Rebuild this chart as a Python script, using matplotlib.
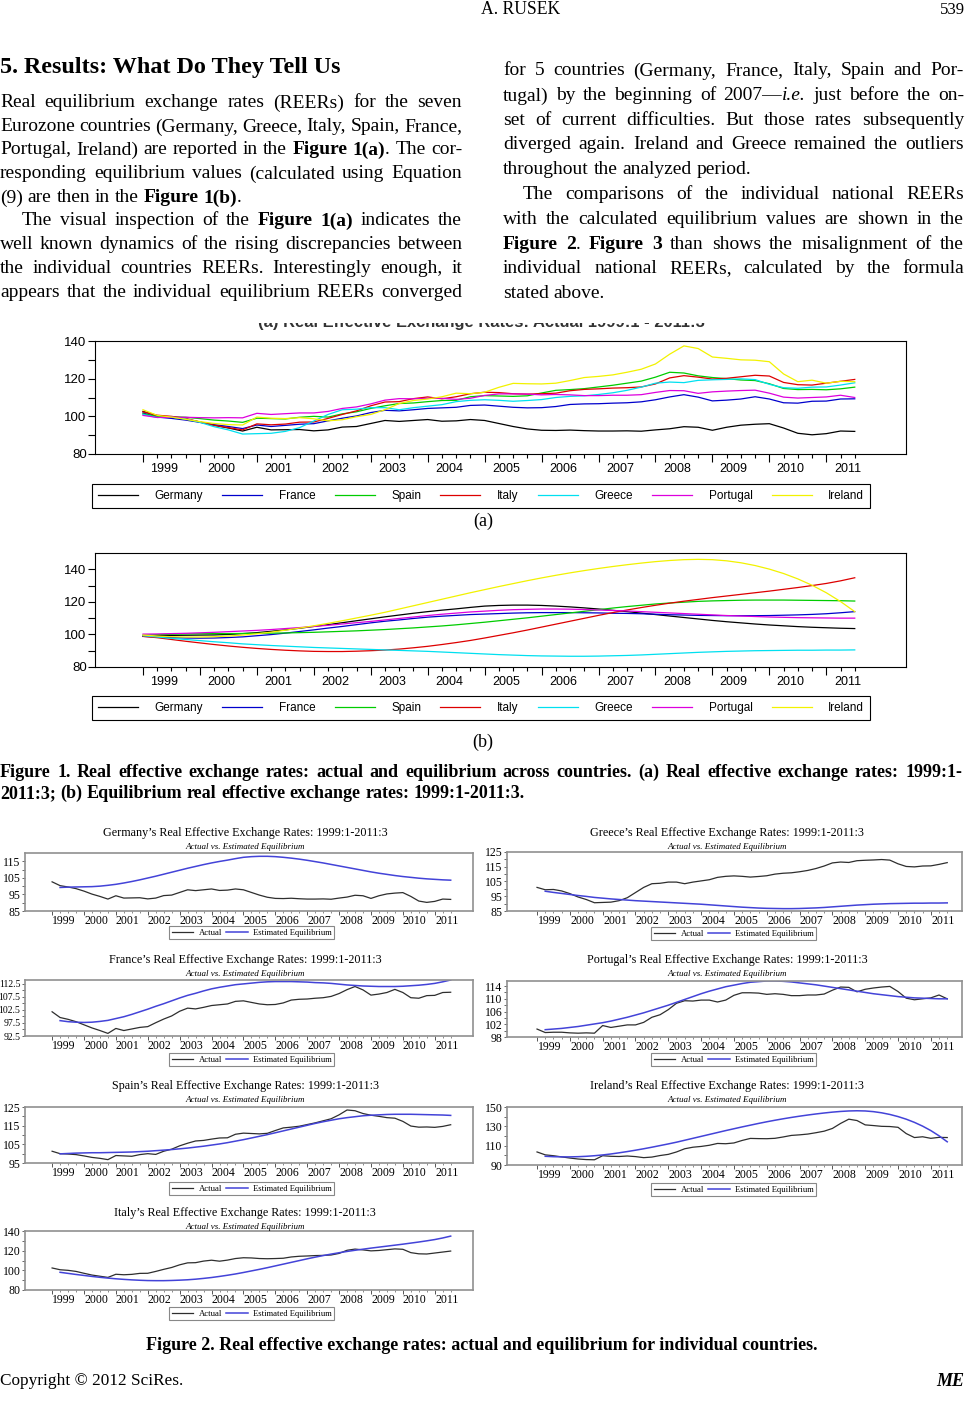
import numpy as np
import matplotlib
matplotlib.use('Agg')
import matplotlib.pyplot as plt
from matplotlib.transforms import Bbox

W, H = 966, 1415
SERIF = 'Liberation Serif'
SANS = 'Liberation Sans'
plt.rcParams['font.family'] = SANS

# ---- data: quarterly REERs, 1999:1 .. 2011:3 (51 quarters) ----
quarters = np.arange(51)
years = list(range(1999, 2012))
year_labels = [str(y) for y in years]

countries = ['Germany', 'France', 'Spain', 'Italy', 'Greece', 'Portugal', 'Ireland']
colors = ['#000000', '#0000cc', '#00cc00', '#dd0000', '#00e0f0', '#dd00dd', '#f2f200']

germany_actual = [102.6, 100.3, 99.5, 98.5, 97.0, 95.2, 93.8, 92.2, 94.2, 92.8,
                  92.9, 93.0, 92.3, 92.8, 94.3, 94.6, 96.2, 97.8, 97.3, 97.8,
                  98.3, 97.4, 97.6, 98.3, 97.8, 96.2, 94.6, 93.3, 92.6, 92.5,
                  92.7, 92.4, 92.2, 92.2, 92.3, 92.1, 92.8, 93.4, 94.5, 94.2,
                  92.6, 94.2, 95.3, 95.8, 96.1, 93.8, 91.0, 90.2, 90.8, 92.2, 92.0]
germany_eq = [98.8, 99.2, 99.4, 99.5, 99.6, 99.7, 100.0, 100.5, 101.1, 101.9,
              102.8, 103.8, 104.9, 106.0, 107.2, 108.4, 109.6, 110.8, 111.9, 113.0,
              114.0, 114.9, 115.7, 116.6, 117.4, 117.8, 118.0, 118.0, 117.8, 117.4,
              116.9, 116.3, 115.6, 114.8, 114.0, 113.1, 112.2, 111.3, 110.4, 109.5,
              108.6, 107.8, 107.1, 106.4, 105.8, 105.3, 104.8, 104.4, 104.1, 103.8, 103.6]

france_actual = [101.8, 99.6, 98.9, 98.0, 96.8, 95.6, 94.6, 93.5, 95.4, 94.6,
                 95.2, 95.8, 96.1, 97.6, 99.0, 100.2, 102.0, 103.2, 102.9, 103.5,
                 104.2, 104.5, 104.8, 105.8, 106.0, 105.4, 104.8, 104.5, 104.6, 105.2,
                 106.3, 106.6, 106.7, 107.0, 107.2, 107.7, 108.8, 110.3, 111.5, 110.2,
                 108.2, 108.6, 109.2, 110.4, 109.2, 107.2, 107.0, 108.0, 108.1, 109.2, 109.3]
france_eq = [98.8, 98.4, 98.0, 97.8, 97.7, 97.8, 98.1, 98.5, 99.2, 99.9,
             100.8, 101.8, 102.8, 103.9, 104.9, 106.0, 107.1, 108.1, 108.9, 109.8,
             110.6, 111.2, 111.7, 112.2, 112.5, 112.8, 113.1, 113.3, 113.4, 113.4,
             113.4, 113.3, 113.2, 113.0, 112.9, 112.7, 112.4, 112.1, 111.9, 111.7,
             111.6, 111.5, 111.5, 111.5, 111.6, 111.8, 112.0, 112.3, 112.7, 113.3, 114.0]

spain_actual = [101.3, 100.0, 99.8, 99.5, 98.8, 98.0, 97.5, 96.8, 99.0, 98.8,
                98.6, 99.5, 100.0, 99.6, 101.3, 102.4, 104.2, 105.6, 106.8, 107.1,
                107.8, 108.4, 108.5, 110.4, 111.0, 110.8, 110.6, 110.9, 112.4, 113.8,
                114.2, 114.7, 115.6, 116.5, 117.6, 118.7, 120.8, 123.4, 123.0, 121.5,
                120.6, 120.0, 119.3, 119.0, 117.3, 114.8, 114.2, 114.3, 114.1, 114.6, 115.5]
spain_eq = [99.5, 99.9, 100.1, 100.3, 100.4, 100.5, 100.5, 100.6, 100.7, 100.8,
            100.9, 101.1, 101.3, 101.6, 101.9, 102.2, 102.6, 103.0, 103.5, 104.0,
            104.6, 105.2, 105.9, 106.7, 107.5, 108.4, 109.3, 110.2, 111.2, 112.2,
            113.2, 114.2, 115.2, 116.2, 117.1, 117.9, 118.7, 119.3, 119.8, 120.3,
            120.6, 120.8, 121.0, 121.1, 121.1, 121.1, 121.0, 120.9, 120.8, 120.7, 120.5]

italy_actual = [102.4, 100.6, 100.0, 98.9, 97.0, 95.2, 94.0, 92.8, 96.0, 95.5,
                95.9, 96.9, 97.0, 98.9, 101.0, 102.9, 105.6, 107.6, 107.8, 109.4,
                110.3, 109.3, 110.4, 112.0, 112.8, 112.6, 112.0, 111.8, 112.0, 112.3,
                113.6, 114.3, 114.6, 115.0, 115.2, 115.6, 117.2, 120.4, 121.6, 120.8,
                119.8, 120.2, 121.0, 121.8, 121.4, 118.0, 116.8, 116.6, 117.6, 118.6, 119.6]
italy_eq = [98.8, 98.0, 96.9, 95.8, 94.8, 93.8, 92.9, 92.1, 91.4, 90.8,
            90.3, 89.9, 89.6, 89.5, 89.5, 89.7, 90.0, 90.4, 91.0, 91.8,
            92.7, 93.8, 95.0, 96.3, 97.8, 99.4, 101.0, 102.7, 104.5, 106.3,
            108.1, 109.9, 111.7, 113.4, 115.0, 116.5, 117.9, 119.2, 120.4, 121.5,
            122.6, 123.6, 124.6, 125.6, 126.6, 127.7, 128.8, 130.0, 131.3, 132.9, 134.8]

greece_actual = [101.0, 99.4, 99.6, 98.6, 96.8, 94.5, 92.8, 90.6, 90.8, 91.0,
                 92.0, 94.0, 97.5, 101.0, 103.5, 103.8, 104.6, 104.6, 103.5, 104.6,
                 105.4, 106.2, 107.8, 108.5, 108.8, 108.5, 108.0, 108.4, 108.9, 110.0,
                 110.6, 110.9, 111.6, 112.5, 113.8, 115.5, 117.6, 118.2, 117.9, 119.1,
                 119.4, 119.6, 119.9, 119.5, 117.0, 115.2, 114.9, 115.5, 115.6, 116.6, 117.8]
greece_eq = [99.2, 98.4, 97.6, 96.9, 96.2, 95.5, 94.9, 94.2, 93.7, 93.2,
             92.8, 92.4, 92.0, 91.7, 91.4, 91.1, 90.8, 90.5, 90.2, 89.9,
             89.6, 89.2, 88.8, 88.4, 88.0, 87.6, 87.3, 87.0, 86.8, 86.7,
             86.6, 86.6, 86.7, 86.9, 87.1, 87.4, 87.8, 88.2, 88.6, 89.0,
             89.3, 89.6, 89.8, 90.0, 90.1, 90.2, 90.3, 90.3, 90.4, 90.4, 90.5]

portugal_actual = [100.5, 99.4, 99.5, 99.5, 99.3, 99.2, 99.3, 99.2, 101.6, 101.0,
                   101.4, 101.8, 101.8, 102.6, 104.2, 105.0, 106.6, 108.6, 109.4, 109.3,
                   109.6, 109.6, 109.0, 109.6, 111.1, 111.9, 111.9, 111.8, 111.4, 111.6,
                   111.4, 111.0, 111.0, 111.2, 111.2, 111.5, 112.7, 113.7, 113.6, 112.2,
                   113.0, 113.4, 113.7, 113.9, 112.3, 110.2, 109.7, 110.0, 110.3, 111.2, 110.0]
portugal_eq = [100.2, 100.3, 100.5, 100.7, 101.0, 101.3, 101.7, 102.1, 102.5, 103.0,
               103.6, 104.2, 104.9, 105.6, 106.4, 107.2, 108.0, 108.9, 109.8, 110.7,
               111.6, 112.4, 113.1, 113.8, 114.3, 114.8, 115.2, 115.4, 115.6, 115.6,
               115.5, 115.3, 115.0, 114.7, 114.4, 114.0, 113.6, 113.2, 112.8, 112.4,
               112.0, 111.6, 111.3, 111.0, 110.7, 110.5, 110.3, 110.2, 110.1, 110.0, 110.0]

ireland_actual = [103.5, 100.5, 99.6, 98.4, 97.2, 96.2, 95.6, 95.4, 99.6, 99.0,
                  98.8, 99.3, 98.7, 97.6, 98.2, 99.8, 101.0, 103.5, 106.8, 108.4,
                  109.2, 110.4, 112.3, 112.0, 112.8, 115.4, 117.5, 117.3, 117.2, 117.6,
                  119.0, 120.6, 121.2, 122.0, 123.4, 125.0, 127.8, 133.0, 137.4, 136.0,
                  131.5, 130.8, 130.0, 129.8, 129.0, 122.5, 118.4, 119.2, 117.6, 118.6, 118.4]
ireland_eq = [99.6, 99.0, 98.6, 98.4, 98.4, 98.6, 99.0, 99.6, 100.4, 101.4,
              102.6, 103.9, 105.3, 106.8, 108.4, 110.1, 111.8, 113.6, 115.6, 117.6,
              119.6, 121.6, 123.6, 125.6, 127.5, 129.4, 131.2, 133.0, 134.7, 136.3,
              137.8, 139.2, 140.5, 141.7, 142.8, 143.8, 144.7, 145.4, 145.9, 146.1,
              145.9, 145.2, 144.0, 142.3, 140.1, 137.4, 134.1, 130.2, 125.6, 120.2, 114.0]

actual = [germany_actual, france_actual, spain_actual, italy_actual,
          greece_actual, portugal_actual, ireland_actual]
equilibrium = [germany_eq, france_eq, spain_eq, italy_eq,
               greece_eq, portugal_eq, ireland_eq]

fig = plt.figure(figsize=(W / 100, H / 100), dpi=100)
renderer = fig.canvas.get_renderer()


def box(x0, y0, x1, y1):
    # pixel box (top-left origin) -> figure fraction rect
    return [x0 / W, 1 - y1 / H, (x1 - x0) / W, (y1 - y0) / H]


def put(s, x, y, size=12, ha='left', width=None, family=SERIF, **kw):
    t = fig.text(x / W, 1 - y / H, s, fontsize=size, ha=ha, va='center',
                 family=family, **kw)
    if width:
        w = t.get_window_extent(renderer).width
        t.set_fontsize(size * width / w)
    return t


def parse(s):
    # *bold*  _italic_  -> list of words, each a list of (text, bold, italic)
    words, word, cur = [], [], ''
    bold = ital = False
    for ch in s + ' ':
        if ch in '*_ ':
            if cur:
                word.append((cur, bold, ital))
                cur = ''
            if ch == '*':
                bold = not bold
            elif ch == '_':
                ital = not ital
            elif word:
                words.append(word)
                word = []
        else:
            cur += ch
    return words


def line(s, x0, x1, yc, size=14.0, justify=True):
    words = parse(s)
    arts = [[fig.text(0, 0, t, fontsize=size, family=SERIF, va='baseline',
                      weight='bold' if b else 'normal',
                      style='italic' if i else 'normal') for t, b, i in w]
            for w in words]
    space = size * 0.25 * 100 / 72
    widths = [[a.get_window_extent(renderer).width for a in w] for w in arts]
    total = sum(sum(w) for w in widths)
    n = len(arts)
    if justify and n > 1:
        need = total + (n - 1) * 0.45 * space
        if need > x1 - x0:
            k = (x1 - x0 - (n - 1) * 0.45 * space) / total
            for w in arts:
                for a in w:
                    a.set_fontsize(size * k)
            widths = [[a.get_window_extent(renderer).width for a in w] for w in arts]
            total = sum(sum(w) for w in widths)
        gap = (x1 - x0 - total) / (n - 1)
    else:
        gap = space
    yb = 1 - (yc + 0.28 * size * 100 / 72) / H
    x = x0
    for w, ws in zip(arts, widths):
        for a, wd in zip(w, ws):
            a.set_position((x / W, yb))
            x += wd
        x += gap


# ---- page header and body text ----
put('A. RUSEK', 481, 10, width=79)
put('539', 965, 10, ha='right', width=25)
put('5. Results: What Do They Tell Us', 0, 68, size=16, weight='bold', width=342)

left_col = [
    ('Real equilibrium exchange rates (REERs) for the seven', 0, True, 102),
    ('Eurozone countries (Germany, Greece, Italy, Spain, France,', 0, True, 126),
    ('Portugal, Ireland) are reported in the *Figure 1(a)*. The cor-', 0, True, 149),
    ('responding equilibrium values (calculated using Equation', 0, True, 173),
    ('(9) are then in the *Figure 1(b)*.', 0, False, 197),
    ('The visual inspection of the *Figure 1(a)* indicates the', 22, True, 220),
    ('well known dynamics of the rising discrepancies between', 0, True, 244),
    ('the individual countries REERs. Interestingly enough, it', 0, True, 268),
    ('appears that the individual equilibrium REERs converged', 0, True, 292),
]
for s, ind, just, y in left_col:
    line(s, 0 + ind, 462, y, justify=just)

right_col = [
    ('for 5 countries (Germany, France, Italy, Spain and Por-', 0, True, 70),
    ('tugal) by the beginning of 2007\u2014_i.e._ just before the on-', 0, True, 95),
    ('set of current difficulties. But those rates subsequently', 0, True, 120),
    ('diverged again. Ireland and Greece remained the outliers', 0, True, 144),
    ('throughout the analyzed period.', 0, False, 169),
    ('The comparisons of the individual national REERs', 20, True, 194),
    ('with the calculated equilibrium values are shown in the', 0, True, 219),
    ('*Figure 2*. *Figure 3* than shows the misalignment of the', 0, True, 244),
    ('individual national REERs, calculated by the formula', 0, True, 268),
    ('stated above.', 0, False, 293),
]
for s, ind, just, y in right_col:
    line(s, 503 + ind, 964, y, justify=just)

# clipped remnant of the original chart title above Figure 1(a)
t = put('(a) Real Effective Exchange Rates: Actual 1999:1 - 2011:3', 481, 322,
        size=10, ha='center', family=SANS, weight='bold', color='#333333', width=448)
t.set_clip_box(Bbox.from_extents(0, H - 330, W, H - 323))
t.set_clip_on(True)


# ---- Figure 1: all countries ----
def eu_chart(frame, series, ylim, legend_box):
    ax = fig.add_axes(box(*frame))
    for name, vals, col in zip(countries, series, colors):
        ax.plot(quarters, vals, color=col, lw=0.9, label=name)
    ax.set_xlim(-3.37, 53.6)
    ax.set_ylim(*ylim)
    ax.set_yticks(range(80, 141, 20))
    ax.set_yticks(range(90, 141, 20), minor=True)
    ax.tick_params(axis='y', which='both', length=5, width=0.8, pad=1, labelsize=9.5)
    ax.set_xticks(quarters[::4], [])
    ax.set_xticks([q for q in quarters if q % 4], minor=True)
    ax.tick_params(axis='x', which='major', length=5.5, width=0.8)
    ax.tick_params(axis='x', which='minor', length=3, width=0.8)
    for sp in ax.spines.values():
        sp.set_linewidth(0.8)
    sec = ax.secondary_xaxis('bottom')
    sec.set_xticks(quarters[::4] + 1.5, year_labels)
    sec.tick_params(length=0, pad=6.3, labelsize=9)
    sec.spines['bottom'].set_visible(False)
    leg = ax.legend(loc='center', bbox_to_anchor=box(*legend_box),
                    bbox_transform=fig.transFigure, mode='expand', ncol=7,
                    prop={'family': SANS, 'size': 8.5}, handlelength=3.4,
                    handletextpad=1.4, columnspacing=1.5, borderpad=0.5,
                    borderaxespad=0, fancybox=False, edgecolor='black', framealpha=1)
    leg.get_frame().set_linewidth(0.8)
    return ax


eu_chart((95, 341, 906, 454), actual, (80, 140), (92, 483, 870, 509))
put('(a)', 483, 521, size=13, ha='center')
eu_chart((95, 553, 906, 667), equilibrium, (80, 150), (92, 694, 870, 722))
put('(b)', 483, 742, size=13, ha='center')

line('*Figure 1. Real effective exchange rates: actual and equilibrium across countries. '
     '(a) Real effective exchange rates: 1999:1-*', 0, 962, 772, size=13)
line('*2011:3; (b) Equilibrium real effective exchange rates: 1999:1-2011:3.*',
     0, 962, 793, size=13, justify=False)


# ---- Figure 2: individual countries ----
panels = {
    # name: (frame, xlim, ylim, yticks, yminor, label size, centre_x, title_y, legend_y)
    'Germany': ((25, 853, 473, 911), (-3.4, 52.8), (85, 120), [85, 95, 105, 115], [90, 100, 110], 8.5, 245, 833, 926),
    'Greece': ((507, 852, 962, 911), (-3.66, 51.8), (85, 125), [85, 95, 105, 115, 125], [90, 100, 110, 120], 8.5, 727, 833, 927),
    'France': ((25, 980, 473, 1036), (-3.4, 52.8), (92.5, 114), [92.5, 97.5, 102.5, 107.5, 112.5], [95, 100, 105, 110], 7.0, 245, 960, 1053),
    'Portugal': ((507, 981, 962, 1037), (-3.66, 51.8), (98, 115.6), [98, 102, 106, 110, 114], [100, 104, 108, 112], 8.5, 727, 960, 1053),
    'Spain': ((25, 1107, 473, 1163), (-3.4, 52.8), (95, 125), [95, 105, 115, 125], [100, 110, 120], 8.5, 245, 1086, 1182),
    'Ireland': ((507, 1107, 962, 1165), (-3.66, 51.8), (90, 150), [90, 110, 130, 150], [100, 120, 140], 8.5, 727, 1086, 1183),
    'Italy': ((25, 1231, 473, 1290), (-3.4, 52.8), (80, 140), [80, 100, 120, 140], [90, 110, 130], 8.5, 245, 1213, 1307),
}

probe = put('Germany\u2019s Real Effective Exchange Rates: 1999:1-2011:3', -2000, 0, size=10, width=284)
title_size = probe.get_fontsize()
probe.remove()
probe = put('Actual vs. Estimated Equilibrium', -2000, 0, size=7, style='italic', width=121)
sub_size = probe.get_fontsize()
probe.remove()

for name, (frame, xlim, ylim, yt, ym, lsize, cx, ty, ly) in panels.items():
    k = countries.index(name)
    ax = fig.add_axes(box(*frame))
    ax.plot(quarters, actual[k], color='#2e2e2e', lw=0.9, label='Actual')
    ax.plot(quarters[1:], equilibrium[k][1:], color='#4343d8', lw=1.1,
            label='Estimated Equilibrium')
    ax.set_xlim(*xlim)
    ax.set_ylim(*ylim)
    ax.set_yticks(yt, [f'{v:g}' for v in yt])
    ax.set_yticks(ym, minor=True)
    ax.tick_params(axis='y', which='both', length=2.5, width=0.7, pad=0.8,
                   labelsize=lsize, labelfontfamily=SERIF, color='#666666')
    ax.set_xticks(quarters[::4], [])
    ax.set_xticks([q for q in quarters if q % 4], minor=True)
    ax.tick_params(axis='x', which='major', length=3, width=0.7, color='#555555')
    ax.tick_params(axis='x', which='minor', length=1.6, width=0.6, color='#777777')
    for sp in ax.spines.values():
        sp.set_color('#909090')
        sp.set_linewidth(1.2)
    sec = ax.secondary_xaxis('bottom')
    sec.set_xticks(quarters[::4] + 1.5, year_labels)
    sec.tick_params(length=0, pad=3.2, labelsize=8.5, labelfontfamily=SERIF)
    sec.spines['bottom'].set_visible(False)
    leg = ax.legend(loc='upper center', bbox_to_anchor=(cx / W + 0.007, 1 - ly / H),
                    bbox_transform=fig.transFigure, ncol=2,
                    prop={'family': SERIF, 'size': 6.2}, handlelength=2.5,
                    handletextpad=0.6, columnspacing=0.5, borderpad=0.3,
                    borderaxespad=0, fancybox=False, edgecolor='#888888', framealpha=1)
    leg.get_frame().set_linewidth(0.8)
    put(f'{name}\u2019s Real Effective Exchange Rates: 1999:1-2011:3', cx, ty,
        size=title_size, ha='center')
    put('Actual vs. Estimated Equilibrium', cx, ty + 14, size=sub_size,
        ha='center', style='italic')

put('Figure 2. Real effective exchange rates: actual and equilibrium for individual countries.',
    482, 1345, size=12, ha='center', weight='bold', width=668)
put('Copyright \u00a9 2012 SciRes.', 0, 1381, size=12, width=182)
put('ME', 964, 1381, size=13, ha='right', weight='bold', style='italic')

fig.savefig('out.png', dpi=100)
